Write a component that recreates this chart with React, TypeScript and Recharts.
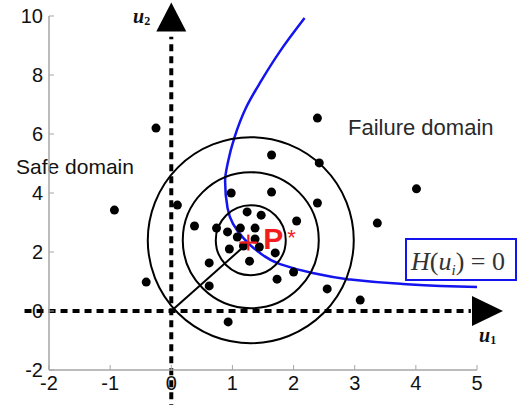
import {
  ComposedChart,
  XAxis,
  YAxis,
  Scatter,
  Line,
  ReferenceLine,
  ReferenceDot,
  Customized,
} from 'recharts'

const xTicks = [-2, -1, 0, 1, 2, 3, 4, 5]
const yTicks = [-2, 0, 2, 4, 6, 8, 10]

// Monte Carlo samples in standard normal space
const sampleX = [
  -0.25, 2.39, 1.64, 2.42, 1.64, 2.39, 2.05, 1.24, 1.47, 1.37, 1.7, 0.1, 0.98,
  0.38, 0.74, 0.92, 1.08, 0.95, 1.18, 1.37, 1.44, 1.28, 0.62, 2.0, 1.73, 0.62,
  -0.41, 2.55, 3.09, 0.93, 4.01, 3.37, -0.93, 1.13,
]
const sampleY = [
  6.2, 6.54, 5.29, 5.02, 4.03, 3.66, 3.05, 3.36, 3.25, 2.81, 1.97, 3.59, 4.0,
  2.88, 2.81, 2.68, 2.51, 2.1, 2.2, 2.44, 2.17, 1.69, 1.63, 1.32, 1.08, 0.85,
  0.98, 0.75, 0.37, -0.37, 4.14, 2.98, 3.42, 2.81,
]

// limit state surface H(u) = 0
const limitX = [
  2.18, 1.78, 1.47, 1.22, 1.03, 0.93, 0.88, 0.92, 1.01, 1.18, 1.41, 1.78, 2.31,
  2.88, 3.75, 4.4, 5.0,
]
const limitY = [
  9.93, 8.81, 7.8, 6.88, 5.86, 5.08, 4.41, 3.49, 2.95, 2.47, 2.03, 1.59, 1.29,
  1.08, 0.92, 0.85, 0.81,
]

const designPoint = { x: 1.26, y: 2.32 }
const ringCenter = { x: 1.3, y: 2.4 }
const ringRadii = [35, 68, 103]

const samples = sampleX.map((x, i) => ({ x, y: sampleY[i] }))
const limitState = limitX.map((x, i) => ({ x, y: limitY[i] }))

const AXIS_GRAY = '#a6a6a6'
const RED = '#f21c1c'
const BLUE = '#1414ee'

const SampleDot = (p: any) => <circle cx={p.cx} cy={p.cy} r={4.5} fill="#000" />

const UpArrow = (p: any) => (
  <polygon
    points={`${p.cx},${p.cy - 15} ${p.cx - 15},${p.cy + 14} ${p.cx + 15},${p.cy + 14}`}
    fill="#000"
  />
)

const RightArrow = (p: any) => (
  <polygon
    points={`${p.cx + 15},${p.cy} ${p.cx - 16},${p.cy - 15} ${p.cx - 16},${p.cy + 15}`}
    fill="#000"
  />
)

const DesignMark = (p: any) => (
  <g>
    <line x1={p.cx - 9} y1={p.cy} x2={p.cx + 9} y2={p.cy} stroke={RED} strokeWidth={2.2} />
    <line x1={p.cx} y1={p.cy - 8} x2={p.cx} y2={p.cy + 8} stroke={RED} strokeWidth={2.2} />
    <text x={p.cx + 15} y={p.cy + 6} fill={RED} fontSize={30} fontWeight="bold">
      P
    </text>
    <text x={p.cx + 39} y={p.cy + 2} fill={RED} fontSize={22}>
      *
    </text>
  </g>
)

const Annotations = () => (
  <g>
    <text x={16} y={174} fontSize={21} fill="#111">
      Safe domain
    </text>
    <text x={348} y={135} fontSize={22} fill="#2a2a2a">
      Failure domain
    </text>
    <rect x={406} y={239} width={110} height={41} fill="#fff" stroke={BLUE} strokeWidth={2} />
    <text x={411} y={270} fontSize={26} fontFamily="'Liberation Serif', serif" fill="#333">
      <tspan fontStyle="italic">H</tspan>
      <tspan>(</tspan>
      <tspan fontStyle="italic">u</tspan>
      <tspan fontStyle="italic" fontSize={15} dy={5}>i</tspan>
      <tspan dy={-5}>) = 0</tspan>
    </text>
    <text x={133} y={23} fontSize={20} fontWeight="bold" fontStyle="italic" fontFamily="'Liberation Serif', serif" fill="#111">
      u<tspan fontSize={12} dy={2} fontStyle="normal">2</tspan>
    </text>
    <text x={479} y={342} fontSize={20} fontWeight="bold" fontStyle="italic" fontFamily="'Liberation Serif', serif" fill="#111">
      u<tspan fontSize={12} dy={2} fontStyle="normal">1</tspan>
    </text>
  </g>
)

export default function App() {
  return (
    <div
      style={{
        position: 'absolute',
        left: 0,
        top: 0,
        width: 527,
        height: 405,
        background: '#fff',
        fontFamily: "'Liberation Sans', Arial, sans-serif",
      }}
    >
      <ComposedChart
        width={527}
        height={405}
        margin={{ top: 16, right: 50, bottom: 5, left: 9 }}
      >
        <XAxis
          type="number"
          dataKey="x"
          domain={[-2, 5]}
          ticks={xTicks}
          allowDataOverflow
          height={30}
          tickSize={-5}
          tickMargin={11}
          stroke={AXIS_GRAY}
          axisLine={{ stroke: AXIS_GRAY, strokeWidth: 1.5 }}
          tickLine={{ stroke: AXIS_GRAY }}
          tick={{ fill: '#111', fontSize: 20 }}
        />
        <YAxis
          type="number"
          dataKey="y"
          domain={[-2, 10]}
          ticks={yTicks}
          allowDataOverflow
          width={40}
          tickSize={-5}
          tickMargin={11}
          stroke={AXIS_GRAY}
          axisLine={{ stroke: AXIS_GRAY, strokeWidth: 1.5 }}
          tickLine={{ stroke: AXIS_GRAY }}
          tick={{ fill: '#111', fontSize: 20 }}
        />

        {/* u1 / u2 axes through the origin */}
        <ReferenceLine
          segment={[{ x: -2.4, y: 0 }, { x: 4.9, y: 0 }]}
          stroke="#000"
          strokeWidth={4}
          strokeDasharray="7 5"
          ifOverflow="visible"
        />
        <ReferenceLine
          segment={[{ x: 0, y: -3.4 }, { x: 0, y: 9.3 }]}
          stroke="#000"
          strokeWidth={4}
          strokeDasharray="7 5"
          ifOverflow="visible"
        />
        <ReferenceDot x={0} y={9.95} r={15} shape={UpArrow} ifOverflow="visible" />
        <ReferenceDot x={5.18} y={0} r={15} shape={RightArrow} ifOverflow="visible" />

        {ringRadii.map((r) => (
          <ReferenceDot
            key={r}
            x={ringCenter.x}
            y={ringCenter.y}
            r={r}
            fill="none"
            stroke="#000"
            strokeWidth={2}
          />
        ))}

        <ReferenceLine
          segment={[{ x: 0, y: 0 }, designPoint]}
          stroke="#000"
          strokeWidth={2}
        />

        <Scatter data={samples} shape={SampleDot} isAnimationActive={false} />

        <Line
          data={limitState}
          dataKey="y"
          type="monotoneY"
          stroke={BLUE}
          strokeWidth={2.5}
          dot={false}
          activeDot={false}
          isAnimationActive={false}
        />

        <ReferenceDot x={designPoint.x} y={designPoint.y} r={9} shape={DesignMark} />

        <Customized component={Annotations} />
      </ComposedChart>
    </div>
  )
}
